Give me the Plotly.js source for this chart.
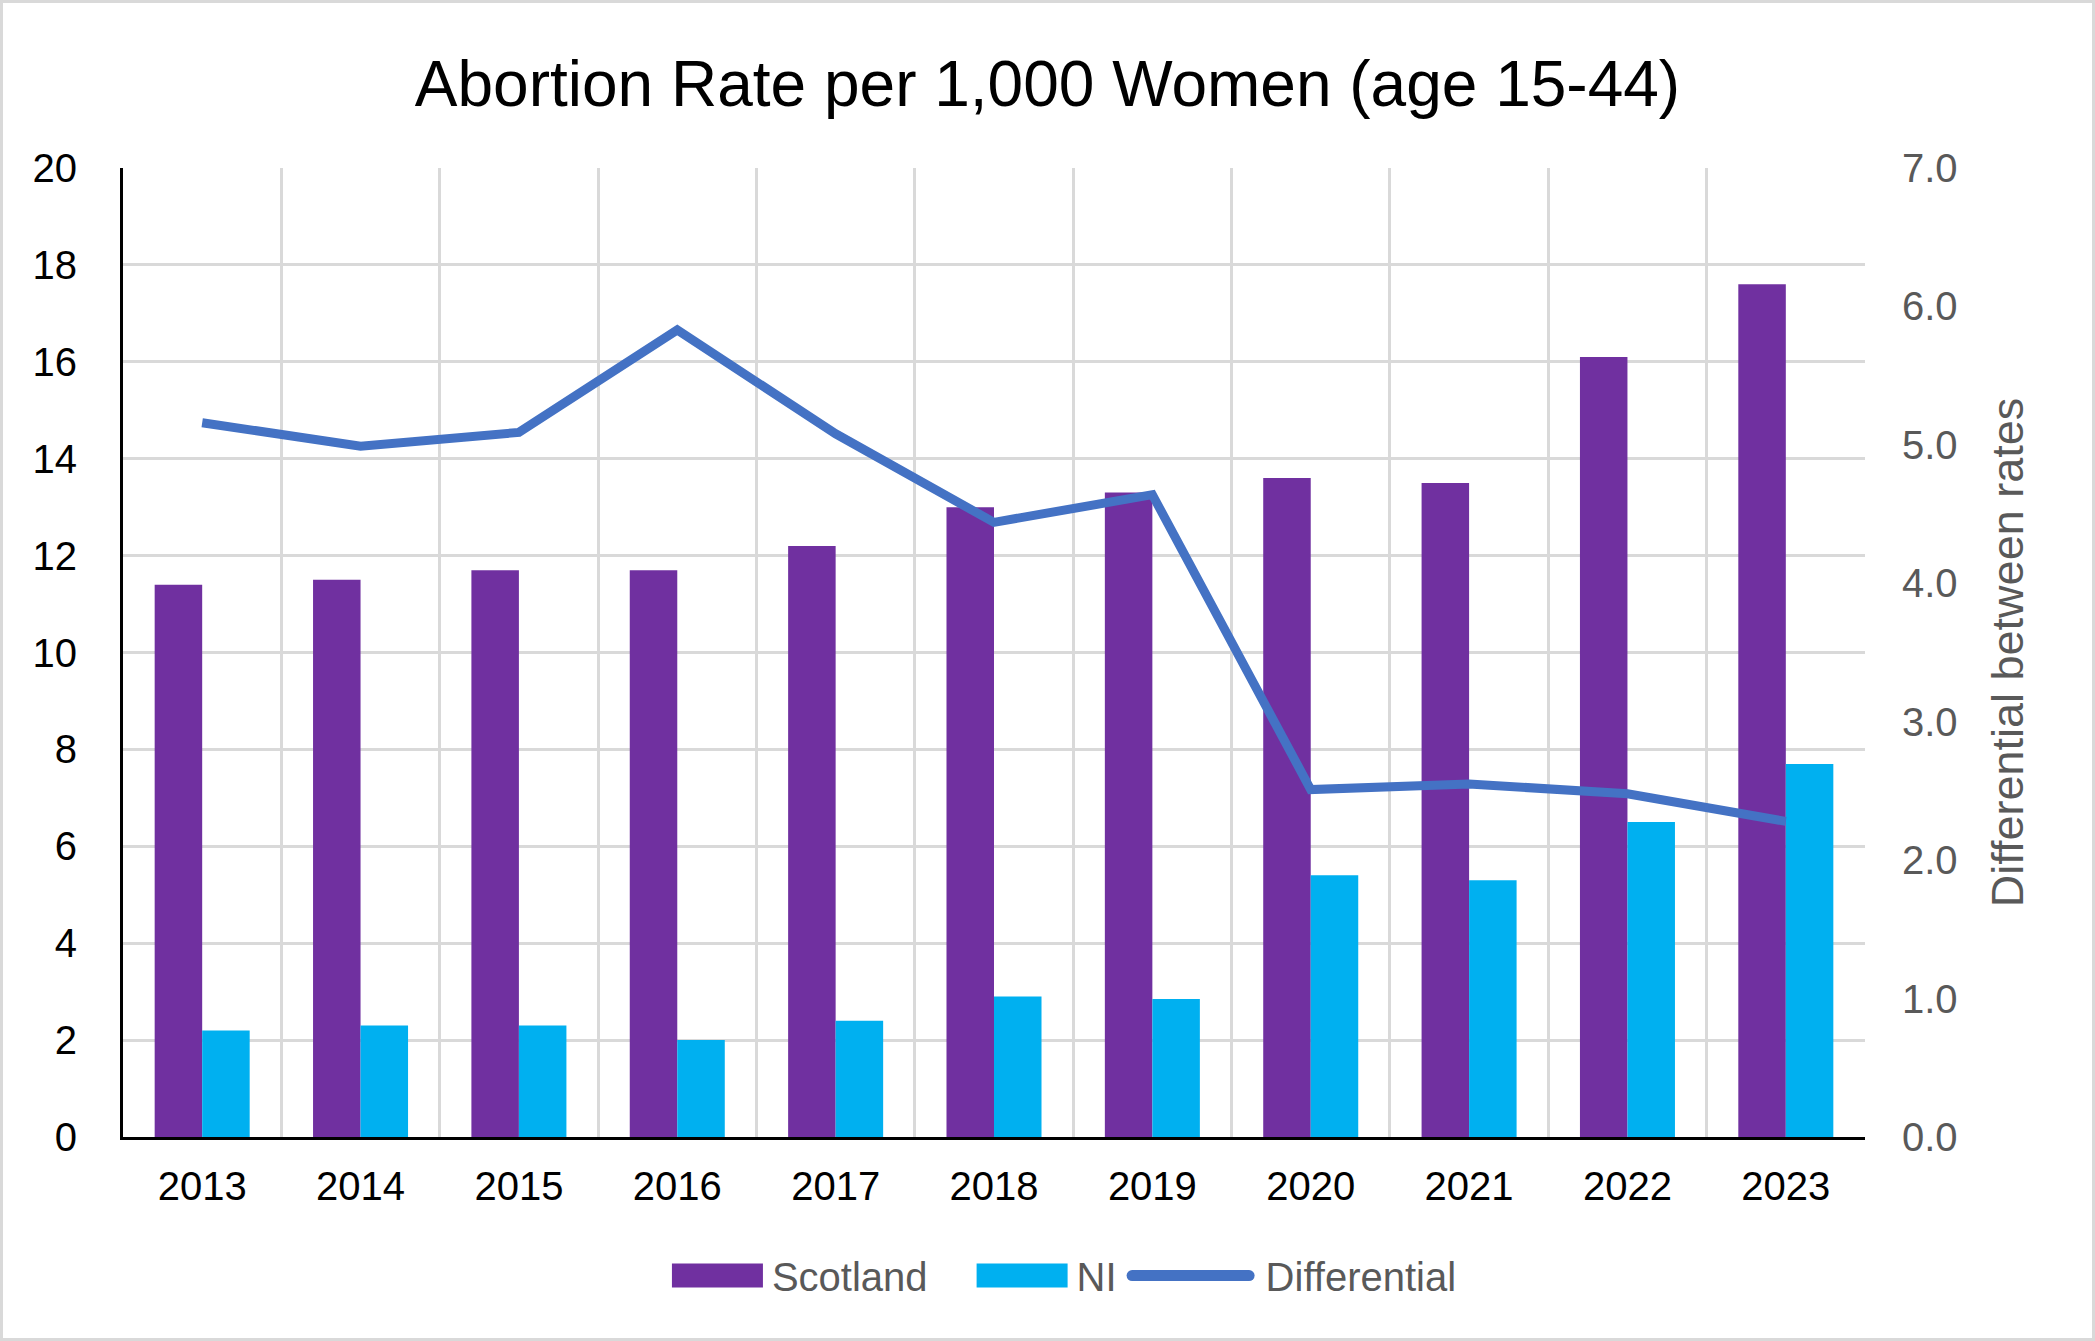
<!DOCTYPE html>
<html>
<head>
<meta charset="utf-8">
<script src="https://cdn.plot.ly/plotly-3.0.1.min.js"></script>
<style>
  html, body { margin: 0; padding: 0; background: #fff; }
  #wrap { position: relative; width: 2095px; height: 1341px; }
  #chart { width: 2095px; height: 1341px; }
  #frame { position: absolute; left: 0; top: 0; width: 2095px; height: 1341px; box-sizing: border-box; border: 3px solid #d9d9d9; pointer-events: none; }
</style>
</head>
<body>
<div id="wrap"><div id="chart"></div><div id="frame"></div></div>
<script>
const years = ["2013","2014","2015","2016","2017","2018","2019","2020","2021","2022","2023"];
const scotland = [11.4, 11.5, 11.7, 11.7, 12.2, 13.0, 13.3, 13.6, 13.5, 16.1, 17.6];
const ni = [2.2, 2.3, 2.3, 2.0, 2.4, 2.9, 2.85, 5.4, 5.3, 6.5, 7.7];
const differential = [5.16, 4.99, 5.09, 5.83, 5.08, 4.44, 4.64, 2.51, 2.55, 2.48, 2.28];
const leftTicks = [0, 2, 4, 6, 8, 10, 12, 14, 16, 18, 20];
const rightTicks = [0, 1, 2, 3, 4, 5, 6, 7];

const FONT = "Liberation Sans, Arial, sans-serif";

const traces = [
  { type: "bar", name: "Scotland", x: years, y: scotland, marker: { color: "#7030A0" }, hoverinfo: "skip" },
  { type: "bar", name: "NI", x: years, y: ni, marker: { color: "#00B0F0" }, hoverinfo: "skip" },
  { type: "scatter", mode: "lines", name: "Differential", x: years, y: differential, yaxis: "y2",
    line: { color: "#4472C4", width: 9 }, hoverinfo: "skip" }
];

const layout = {
  width: 2095, height: 1341,
  paper_bgcolor: "#ffffff", plot_bgcolor: "#ffffff",
  margin: { l: 123, r: 230, t: 168, b: 204, pad: 0 },
  font: { family: FONT, size: 40, color: "#000000" },
  title: { text: "Abortion Rate per 1,000 Women (age 15-44)", font: { family: FONT, size: 64, color: "#000000" },
           x: 0.5, xref: "container", xanchor: "center", y: 0.938, yref: "container", yanchor: "middle" },
  barmode: "group", bargap: 0.4, bargroupgap: 0,
  xaxis: {
    type: "category", tickson: "boundaries", ticks: "", showgrid: true, gridcolor: "#d9d9d9", gridwidth: 3,
    showline: true, linecolor: "#000000", linewidth: 3, tickfont: { size: 40, color: "#000000" },
    tickangle: 0, ticklabelstandoff: 12, automargin: false
  },
  yaxis: {
    range: [0, 20], tickvals: leftTicks, ticktext: leftTicks.map(String), showgrid: true, gridcolor: "#d9d9d9", gridwidth: 3,
    zeroline: false, showline: true, linecolor: "#000000", linewidth: 3, ticks: "",
    tickfont: { size: 40, color: "#000000" }, ticklabelstandoff: 35, automargin: false
  },
  yaxis2: {
    overlaying: "y", side: "right", range: [0, 7], tickvals: rightTicks, ticktext: rightTicks.map(v => v.toFixed(1)),
    showgrid: false, zeroline: false, showline: false, ticks: "",
    tickfont: { size: 40, color: "#595959" }, ticklabelstandoff: 36, automargin: false,
    title: { text: "Differential between rates", font: { size: 45, color: "#595959" }, standoff: 34 }
  },
  showlegend: true,
  legend: {
    orientation: "h", x: 0.53, xanchor: "center", y: -0.143, yanchor: "middle",
    font: { size: 40, color: "#595959" }, itemwidth: 100, traceorder: "normal", bgcolor: "rgba(0,0,0,0)"
  }
};

// Excel-style legend: wide swatches, custom spacing
function restyleLegend(gd) {
  const svg = gd.querySelector("svg.main-svg");
  const sb = gd.querySelector(".legend .scrollbox");
  if (sb) sb.removeAttribute("clip-path");
  const items = [];
  gd.querySelectorAll(".legend .traces").forEach(g => {
    const txt = g.querySelector("text.legendtext");
    const bar = g.querySelector("path.legendbar") || g.querySelector("path.legendundefined");
    const line = g.querySelector("path.js-line");
    if (!txt || !(bar || line)) return;
    items.push({ g, txt, bar, line });
  });
  const gapsBefore = [0, 49, 10];
  const symW = it => it.bar ? 91 : 128;
  const symGap = it => it.bar ? 9 : 11;
  let total = 0;
  items.forEach((it, i) => {
    it.tw = it.txt.getBoundingClientRect().width;
    total += (gapsBefore[i] || 20) + symW(it) + symGap(it) + it.tw;
  });
  const svgLeft = svg.getBoundingClientRect().left;
  let cursor = svgLeft + 1054 - total / 2;
  items.forEach((it, i) => {
    const symLeft = cursor + (gapsBefore[i] || 20);
    const textLeft = symLeft + symW(it) + symGap(it);
    const cur = it.txt.getBoundingClientRect().left;
    const dx = textLeft - cur;
    const tf = it.g.getAttribute("transform") || "translate(0,0)";
    const mm = tf.match(/translate\(\s*([-\d.e]+)[ ,]+([-\d.e]+)\s*\)/);
    const tx = mm ? parseFloat(mm[1]) : 0, ty = mm ? parseFloat(mm[2]) : 0;
    it.g.setAttribute("transform", `translate(${tx + dx},${ty})`);
    const tb = it.txt.getBoundingClientRect();
    const target = it.bar || it.line;
    const inv = target.getScreenCTM().inverse();
    const p1 = svg.createSVGPoint(); p1.x = symLeft; p1.y = tb.top + tb.height / 2;
    const p2 = svg.createSVGPoint(); p2.x = symLeft + symW(it); p2.y = p1.y;
    const a = p1.matrixTransform(inv), b = p2.matrixTransform(inv);
    if (it.bar) {
      it.bar.setAttribute("d", `M${a.x},-12H${b.x}V12H${a.x}Z`);
      it.bar.style.strokeWidth = "0px";
    } else {
      it.line.setAttribute("d", `M${a.x + 5.5},0H${b.x - 5.5}`);
      it.line.style.strokeLinecap = "round";
      it.line.style.strokeWidth = "11px";
    }
    cursor = textLeft + it.tw;
  });
}

Plotly.newPlot("chart", traces, layout, { staticPlot: true, displayModeBar: false }).then(gd => restyleLegend(gd));
</script>
</body>
</html>
